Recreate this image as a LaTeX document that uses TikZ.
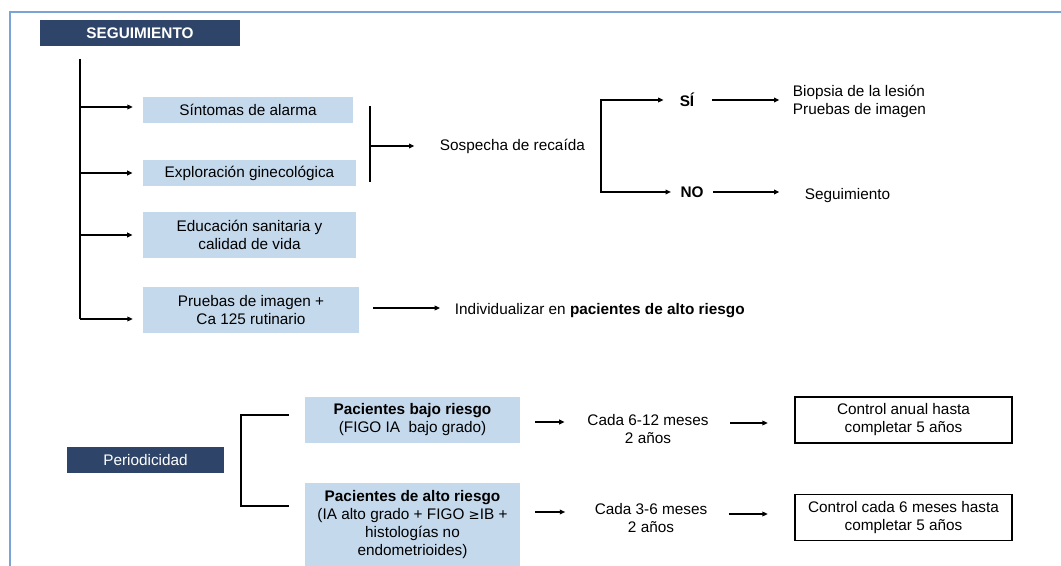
\documentclass[tikz,border=0pt]{standalone}
\usepackage{fontspec}
\setmainfont{Liberation Sans}
\usepackage{tikz}
\usetikzlibrary{arrows.meta,positioning,calc}
\definecolor{navy}{HTML}{2E4468}
\definecolor{paleblue}{HTML}{C5D9ED}
\definecolor{frameblue}{HTML}{7BA3D6}
\tikzset{
  head/.style  ={fill=navy,text=white,inner sep=0pt,align=center,
                 font=\fontsize{11.5}{13.5}\selectfont},
  item/.style  ={fill=paleblue,inner sep=0pt,align=center,
                 font=\fontsize{11.5}{13.5}\selectfont},
  plan/.style  ={draw=black,line width=0.9pt,fill=white,inner sep=0pt,align=center,
                 font=\fontsize{11.5}{13.5}\selectfont},
  txt/.style   ={inner sep=2pt,align=center,font=\fontsize{11.5}{13.5}\selectfont},
  line/.style  ={line width=0.9pt,draw=black},
  flow/.style  ={-{Triangle[length=4pt,width=3.5pt]},line width=0.9pt,draw=black},
  fork/.style  ={{Triangle[length=4pt,width=3.5pt]}-{Triangle[length=4pt,width=3.5pt]},
                 line width=0.9pt,draw=black}
}
\begin{document}
\begin{tikzpicture}[x=0.75pt,y=-0.75pt]
    \useasboundingbox (0,0) rectangle (1061,566);
    % frame
    \coordinate (fr) at (10,12);
    \draw[frameblue,line width=0.8pt] (fr -| 1061,0) -- (fr) -- (fr |- 0,566);
    % follow-up block
    \node[head,minimum width=150pt,minimum height=19.5pt,font=\fontsize{11.5}{13.5}\selectfont\bfseries] (seg) at (140,33) {SEGUIMIENTO};
    \node[item,minimum width=157.5pt,minimum height=20pt] (sint) at (248,110) {S\'intomas de alarma};
    \node[item,minimum width=160pt,minimum height=19.5pt] (expl) at (249.5,173) {Exploraci\'on ginecol\'ogica};
    \node[item,minimum width=160pt,minimum height=34.5pt] (educ) at (249.5,235) {Educaci\'on sanitaria y\\calidad de vida};
    \node[item,minimum width=162pt,minimum height=34pt] (prue) at (251,310) {Pruebas de imagen +\\Ca 125 rutinario};
    \coordinate (trunk) at (80,59);
    \draw[line] (trunk) -- (trunk |- 0,319);
    \draw[flow] (trunk |- 0,107) -- ([xshift=-7.5pt]sint.west |- 0,107);
    \draw[flow] (trunk |- expl.west) -- ([xshift=-7.5pt]expl.west);
    \draw[flow] (trunk |- educ.west) -- ([xshift=-7.5pt]educ.west);
    \draw[flow] (trunk |- 0,319) -- ([xshift=-7.5pt]prue.west |- 0,319);
    % relapse
    \node[txt,anchor=west] (sosp) at (437,146) {Sospecha de reca\'ida};
    \coordinate (b1) at (370,106);
    \draw[line] (b1) -- (b1 |- 0,182);
    \draw[flow] (b1 |- sosp.west) -- ([xshift=-17pt]sosp.west);
    \node[txt,font=\fontsize{11.5}{13.5}\selectfont\bfseries] (si) at (687,100) {S\'I};
    \node[txt,font=\fontsize{11.5}{13.5}\selectfont\bfseries] (no) at (692,192) {NO};
    \coordinate (b2) at (601,146);
    \draw[fork] ([xshift=-10pt]si.west) -| (b2) |- ([xshift=-5pt]no.west);
    \node[txt,anchor=west,align=left] (biop) at (790,101) {Biopsia de la lesi\'on\\Pruebas de imagen};
    \node[txt,anchor=west] (sgto) at (802,196) {Seguimiento};
    \draw[flow] ([xshift=11pt]si.east) -- ([xshift=-8pt]biop.west |- si.east);
    \draw[flow] ([xshift=5pt]no.east) -- ([xshift=-17pt]sgto.west |- no.east);
    \node[txt,anchor=west] (indiv) at (452,311) {Individualizar en \textbf{pacientes de alto riesgo}};
    \draw[flow] ([xshift=10.5pt]prue.east |- 0,308) -- ([xshift=-9pt]indiv.west |- 0,308);
    % periodicity block
    \node[head,minimum width=118pt,minimum height=19.5pt] (per) at (145.5,460) {Periodicidad};
    \node[item,minimum width=161pt,minimum height=34pt] (bajo) at (412.5,420) {\textbf{Pacientes bajo riesgo}\\(FIGO IA\ \ bajo grado)};
    \node[item,minimum width=161pt,minimum height=62pt] (alto) at (412.5,524.5) {\textbf{Pacientes de alto riesgo}\\(IA alto grado + FIGO {\fontspec{DejaVu Sans}\fontsize{10}{13.5}\selectfont≥}IB +\\histolog\'ias no\\endometrioides)};
    \coordinate (b3) at (241,460);
    \draw[line] ([xshift=-12pt]bajo.west |- 0,415) -| (b3) |- ([xshift=-12pt]alto.west |- 0,506);
    \node[txt] (cada1) at (648,429) {Cada 6-12 meses\\2 a\~nos};
    \node[txt] (cada2) at (651,518) {Cada 3-6 meses\\2 a\~nos};
    \node[plan,minimum width=162.75pt,minimum height=34.5pt] (ctrl1) at (903.5,420) {Control anual hasta\\completar 5 a\~nos};
    \node[plan,minimum width=162.75pt,minimum height=35pt] (ctrl2) at (903.5,517.5) {Control cada 6 meses hasta\\completar 5 a\~nos};
    \draw[flow] ([xshift=11pt]bajo.east |- 0,422) -- ([xshift=-15pt]cada1.west |- 0,422);
    \draw[flow] ([xshift=11pt]alto.east |- 0,512) -- ([xshift=-20pt]cada2.west |- 0,512);
    \draw[flow] ([xshift=14pt]cada1.east |- 0,423) -- ([xshift=-20pt]ctrl1.west |- 0,423);
    \draw[flow] ([xshift=14pt]cada2.east |- 0,514) -- ([xshift=-20pt]ctrl2.west |- 0,514);
\end{tikzpicture}
\end{document}
